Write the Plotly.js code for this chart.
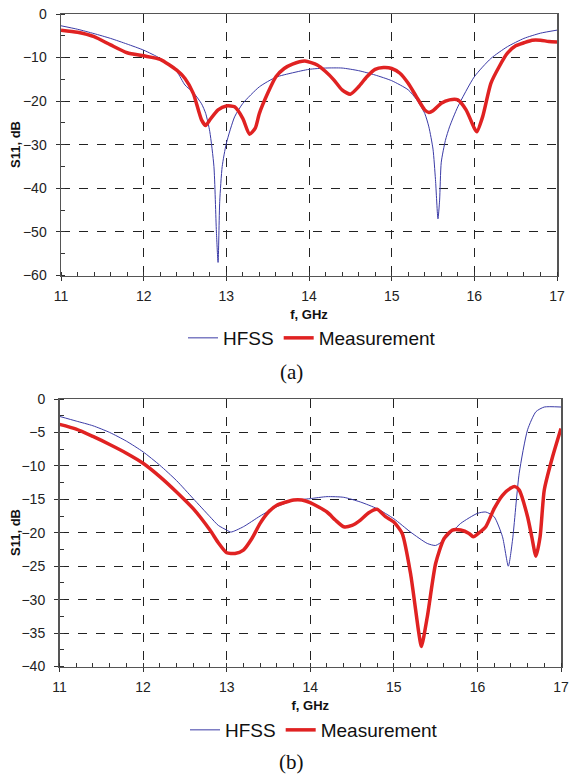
<!DOCTYPE html>
<html>
<head>
<meta charset="utf-8">
<script src="https://cdn.plot.ly/plotly-3.0.1.min.js"></script>
<style>
html,body{margin:0;padding:0;background:#fff;}
#chart{width:569px;height:780px;}
</style>
</head>
<body>
<div id="chart"></div>
<script>
// ---- Chart (a) ----
var fA_hfss = [11.0,11.2,11.4,11.6,11.8,12.0,12.2,12.4,12.5,12.6,12.7,12.75,12.8,12.85,12.88,12.9,12.92,12.95,13.0,13.1,13.2,13.4,13.6,13.8,14.0,14.2,14.4,14.6,14.8,15.0,15.2,15.3,15.4,15.45,15.5,15.53,15.56,15.58,15.6,15.65,15.7,15.8,16.0,16.2,16.4,16.6,16.8,17.0];
var sA_hfss = [-2.7,-3.5,-4.5,-5.6,-6.9,-8.3,-10.2,-13.2,-16.3,-18.0,-20.6,-22.8,-27,-35,-50,-57,-43,-35,-29.7,-23.6,-20.5,-16.7,-14.5,-13.5,-12.7,-12.4,-12.4,-13.0,-14.0,-15.3,-17.4,-19.6,-22.8,-25.9,-31,-38,-47,-42.7,-34,-29,-25.9,-21.3,-14.4,-10.2,-7.5,-5.6,-4.4,-3.7];
var fA_meas = [11.0,11.2,11.4,11.6,11.8,12.0,12.2,12.4,12.5,12.6,12.7,12.75,12.8,12.9,13.0,13.1,13.2,13.28,13.35,13.4,13.5,13.6,13.7,13.8,13.95,14.1,14.2,14.3,14.4,14.5,14.6,14.7,14.8,14.9,15.0,15.1,15.2,15.3,15.4,15.45,15.5,15.6,15.7,15.8,15.9,16.0,16.03,16.1,16.2,16.3,16.4,16.5,16.6,16.7,16.8,16.9,17.0];
var sA_meas = [-3.7,-4.2,-5.2,-7.1,-8.9,-9.6,-10.4,-12.9,-14.8,-18.2,-24.3,-25.6,-24.3,-22.0,-21.1,-21.3,-24.0,-27.6,-26.2,-22.8,-18.2,-14.4,-12.5,-11.5,-10.8,-11.7,-13.2,-15.1,-17.4,-18.4,-16.7,-14.4,-12.7,-12.3,-12.5,-13.6,-15.9,-19.0,-22.0,-22.6,-22.2,-20.5,-19.7,-19.7,-22.0,-26.2,-27.0,-23.6,-15.9,-12.1,-9.0,-7.3,-6.6,-6.0,-6.0,-6.3,-6.4];

// ---- Chart (b) ----
var fB_hfss = [11.0,11.2,11.4,11.6,11.8,12.0,12.2,12.4,12.6,12.8,12.9,13.0,13.05,13.2,13.4,13.6,13.8,14.0,14.2,14.4,14.6,14.8,15.0,15.2,15.4,15.5,15.6,15.8,16.0,16.1,16.2,16.3,16.37,16.42,16.5,16.6,16.7,16.8,17.0];
var sB_hfss = [-2.6,-3.3,-4.0,-5.0,-6.3,-7.9,-9.9,-12.2,-14.9,-17.6,-18.9,-19.6,-19.9,-19.1,-17.5,-16.1,-15.2,-14.9,-14.6,-14.7,-15.4,-16.4,-17.9,-19.9,-21.6,-21.9,-21.1,-18.6,-17.1,-16.9,-17.6,-20.6,-25.0,-21.1,-11.1,-4.6,-1.9,-1.2,-1.2];
var fB_meas = [11.0,11.2,11.4,11.6,11.8,12.0,12.2,12.4,12.6,12.8,12.9,13.0,13.1,13.2,13.3,13.4,13.5,13.6,13.8,13.9,14.0,14.2,14.3,14.4,14.5,14.6,14.7,14.8,14.9,15.0,15.1,15.2,15.3,15.33,15.4,15.5,15.6,15.7,15.8,15.9,15.95,16.0,16.1,16.2,16.3,16.4,16.45,16.5,16.6,16.65,16.7,16.75,16.8,16.9,17.0];
var sB_meas = [-3.8,-4.5,-5.6,-6.8,-8.1,-9.6,-11.6,-13.9,-16.4,-19.6,-21.5,-23.0,-23.1,-22.6,-20.9,-18.6,-16.9,-15.9,-15.1,-15.1,-15.5,-16.9,-18.1,-19.1,-18.9,-18.1,-17.0,-16.5,-17.6,-18.4,-20.1,-26.1,-35.1,-37.0,-32.6,-24.6,-20.9,-19.6,-19.6,-20.1,-20.6,-20.2,-19.1,-16.4,-14.4,-13.3,-13.1,-13.6,-17.6,-20.6,-23.5,-20.6,-13.6,-8.6,-4.4];

var seriesNames = ['HFSS', 'Measurement'];
var xTicks = [11,12,13,14,15,16,17];

var blue = '#3b3ba6', red = '#e02222';
var tickFont = {family: 'Arial, Liberation Sans, sans-serif', size: 14, color: '#222'};
var titleFont = {family: 'Arial, Liberation Sans, sans-serif', size: 13, color: '#111', weight: 'bold'};

function xAxis(dom){
  return {
    domain: dom, range: [11,17], tickvals: xTicks, ticks: 'outside', ticklen: 4, tickcolor: '#333',
    showline: true, linecolor: '#555', linewidth: 1.5, mirror: true,
    showgrid: true, gridcolor: '#222', griddash: 'dash', gridwidth: 1, zeroline: false,
    minor: {dtick: 0.2, ticks: 'inside', ticklen: 4, tickcolor: '#333', showgrid: false},
    tickfont: tickFont, ticklabelstandoff: 3,
    title: {text: 'f, GHz', font: titleFont, standoff: 7}
  };
}
function yAxis(dom, range, dt, mdt){
  return {
    domain: dom, range: range, dtick: dt, ticks: 'outside', ticklen: 4, tickcolor: '#333',
    showline: true, linecolor: '#555', linewidth: 1.5, mirror: true,
    showgrid: true, gridcolor: '#222', griddash: 'dash', gridwidth: 1, zeroline: false,
    minor: {dtick: mdt, ticks: 'inside', ticklen: 4, tickcolor: '#333', showgrid: false},
    tickfont: tickFont, ticklabelstandoff: 6
  };
}

var data = [
  {x: fA_hfss, y: sA_hfss, name: seriesNames[0], type: 'scatter', mode: 'lines', line: {color: blue, width: 1, shape: 'spline', smoothing: 0.6}, xaxis: 'x', yaxis: 'y', legend: 'legend'},
  {x: fA_meas, y: sA_meas, name: seriesNames[1], type: 'scatter', mode: 'lines', line: {color: red, width: 3.5, shape: 'spline', smoothing: 0.6}, xaxis: 'x', yaxis: 'y', legend: 'legend'},
  {x: fB_hfss, y: sB_hfss, name: seriesNames[0], type: 'scatter', mode: 'lines', line: {color: blue, width: 1, shape: 'spline', smoothing: 0.6}, xaxis: 'x2', yaxis: 'y2', legend: 'legend2'},
  {x: fB_meas, y: sB_meas, name: seriesNames[1], type: 'scatter', mode: 'lines', line: {color: red, width: 3.5, shape: 'spline', smoothing: 0.6}, xaxis: 'x2', yaxis: 'y2', legend: 'legend2'}
];

var legFont = {family: 'Arial, Liberation Sans, sans-serif', size: 19, color: '#111'};
var capFont = {family: 'Liberation Serif, Times New Roman, serif', size: 21, color: '#111'};
var layout = {
  width: 569, height: 780,
  margin: {l: 0, r: 0, t: 0, b: 0},
  paper_bgcolor: '#fff', plot_bgcolor: '#fff',
  showlegend: true,
  xaxis: xAxis([61/569, 557/569]),
  yaxis: yAxis([1-275.5/780, 1-14/780], [-60, 0], 10, 5),
  xaxis2: xAxis([59.5/569, 561/569]),
  yaxis2: yAxis([1-666.5/780, 1-399/780], [-40, 0], 5, 2.5),
  legend: {orientation: 'h', x: 183/569, y: 1-338/780, xanchor: 'left', yanchor: 'middle', font: legFont, bgcolor: 'rgba(0,0,0,0)', itemwidth: 30},
  legend2: {orientation: 'h', x: 185/569, y: 1-730/780, xanchor: 'left', yanchor: 'middle', font: legFont, bgcolor: 'rgba(0,0,0,0)', itemwidth: 30},
  annotations: [
    {text: 'S11, dB', xref: 'paper', yref: 'paper', x: 15/569, y: 1-145/780, textangle: -90, xanchor: 'center', yanchor: 'middle', showarrow: false, font: titleFont},
    {text: 'S11, dB', xref: 'paper', yref: 'paper', x: 15/569, y: 1-533/780, textangle: -90, xanchor: 'center', yanchor: 'middle', showarrow: false, font: titleFont},
    {text: '(a)', xref: 'paper', yref: 'paper', x: 291/569, y: 1-372/780, xanchor: 'center', yanchor: 'middle', showarrow: false, font: capFont},
    {text: '(b)', xref: 'paper', yref: 'paper', x: 291/569, y: 1-762/780, xanchor: 'center', yanchor: 'middle', showarrow: false, font: capFont}
  ]
};
layout.xaxis2.anchor = 'y2';
layout.yaxis2.anchor = 'x2';

Plotly.newPlot('chart', data, layout, {displayModeBar: false, staticPlot: true});
</script>
</body>
</html>
